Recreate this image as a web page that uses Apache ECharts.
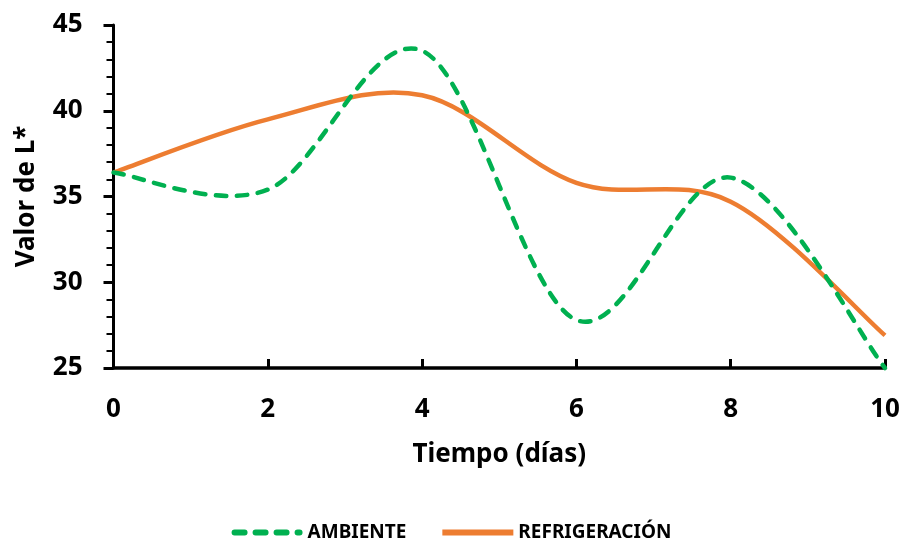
<!DOCTYPE html>
<html>
<head>
<meta charset="utf-8">
<script src="https://cdn.jsdelivr.net/npm/echarts@6/dist/echarts.min.js"></script>
<style>
    html, body { margin: 0; padding: 0; background: #fff; }
    #chart { width: 903px; height: 539px; }
</style>
</head>
<body>
<div id="chart"></div>
<script>
// datos
const dias = [0, 2, 4, 6, 8, 10]
const ambiente = [36.4, 35.4, 43.5, 27.8, 36.1, 25.0]
const refrigeracion = [36.4, 39.5, 40.9, 35.8, 34.7, 26.9]

const fuente = "'Noto Sans', sans-serif"
const verde = '#00B050'
const naranja = '#ED7D31'

function pares(xs, ys) {
    return xs.map((x, i) => [x, ys[i]])
}

/**
 * curva suavizada tipo Excel (catmull-rom -> bezier)
 * se dibuja toda la linea desde el primer punto, usando api.coord
 */
function curvaSuave(lineStyle) {
    return function (params, api) {
        if (params.dataIndexInside !== 0) return
        let n = params.dataInsideLength
        let pts = []
        for (let i = 0; i < n; i++) {
            pts.push(api.coord([api.value(0, i), api.value(1, i)]))
        }
        let d = 'M' + pts[0][0] + ',' + pts[0][1]
        for (let i = 0; i < n - 1; i++) {
            let p0 = pts[Math.max(i - 1, 0)]
            let p1 = pts[i]
            let p2 = pts[i + 1]
            let p3 = pts[Math.min(i + 2, n - 1)]
            let c1x = p1[0] + (p2[0] - p0[0]) / 6
            let c1y = p1[1] + (p2[1] - p0[1]) / 6
            let c2x = p2[0] - (p3[0] - p1[0]) / 6
            let c2y = p2[1] - (p3[1] - p1[1]) / 6
            d += ' C' + c1x + ',' + c1y + ' ' + c2x + ',' + c2y + ' ' + p2[0] + ',' + p2[1]
        }
        return {
            type: 'path',
            shape: { pathData: d },
            style: Object.assign({ fill: 'none' }, lineStyle)
        }
    }
}

var myChart = echarts.init(document.getElementById('chart'))

myChart.setOption({
    animation: false,
    textStyle: { fontFamily: fuente, fontWeight: 'bold', color: '#000' },
    grid: { left: 113.5, right: 18, top: 25, bottom: 171 },
    legend: {
        top: 518,
        left: 'center',
        itemWidth: 71,
        itemHeight: 6,
        itemGap: 36,
        textStyle: { fontFamily: fuente, fontWeight: 'bold', fontSize: 19, color: '#000' },
        data: [
            {
                name: 'AMBIENTE',
                icon: 'path://M3,0h10a3,3 0 0 1 0,6h-10a3,3 0 0 1 0,-6z M24,0h10a3,3 0 0 1 0,6h-10a3,3 0 0 1 0,-6z M45,0h10a3,3 0 0 1 0,6h-10a3,3 0 0 1 0,-6z M66,0h2a3,3 0 0 1 0,6h-2a3,3 0 0 1 0,-6z',
                itemStyle: { color: verde }
            },
            {
                name: 'REFRIGERACIÓN',
                icon: 'path://M0,0h71v6h-71z',
                itemStyle: { color: naranja }
            }
        ]
    },
    xAxis: {
        type: 'value',
        min: 0, max: 10, interval: 2,
        name: 'Tiempo (días)',
        nameLocation: 'middle',
        nameGap: 74,
        nameTextStyle: { fontFamily: fuente, fontWeight: 'bold', fontSize: 26, color: '#000' },
        axisLine: { lineStyle: { color: '#000', width: 3.5 } },
        axisTick: { inside: true, length: 9, lineStyle: { color: '#000', width: 3 } },
        axisLabel: { margin: 29, fontFamily: fuente, fontWeight: 'bold', fontSize: 26, color: '#000' },
        splitLine: { show: false }
    },
    yAxis: {
        type: 'value',
        min: 25, max: 45, interval: 5,
        name: 'Valor de L*',
        nameLocation: 'middle',
        nameGap: 74,
        nameTextStyle: { fontFamily: fuente, fontWeight: 'bold', fontSize: 26, color: '#000' },
        axisLine: { show: true, lineStyle: { color: '#000', width: 3 } },
        axisTick: { show: true, length: 10, lineStyle: { color: '#000', width: 3 } },
        minorTick: { show: true, splitNumber: 5, length: 7, lineStyle: { color: '#000', width: 2 } },
        axisLabel: { margin: 31, fontFamily: fuente, fontWeight: 'bold', fontSize: 26, color: '#000' },
        splitLine: { show: false }
    },
    series: [
        {
            name: 'AMBIENTE',
            type: 'custom',
            data: pares(dias, ambiente),
            encode: { x: 0, y: 1 },
            itemStyle: { color: verde },
            renderItem: curvaSuave({ stroke: verde, lineWidth: 4.5, lineDash: [10.5, 10.5], lineCap: 'round' }),
            z: 3
        },
        {
            name: 'REFRIGERACIÓN',
            type: 'custom',
            data: pares(dias, refrigeracion),
            encode: { x: 0, y: 1 },
            itemStyle: { color: naranja },
            renderItem: curvaSuave({ stroke: naranja, lineWidth: 4.5 }),
            z: 2
        }
    ]
})
</script>
</body>
</html>
